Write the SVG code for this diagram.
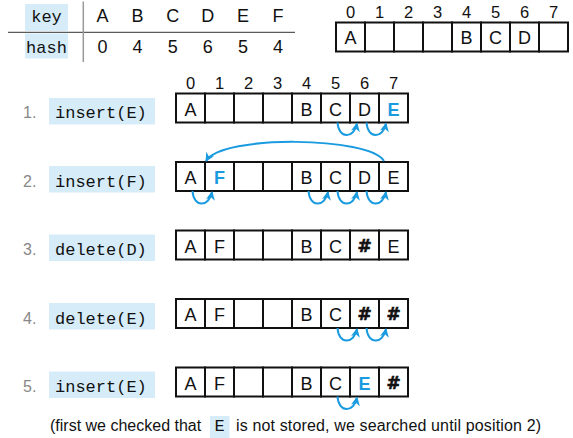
<svg xmlns="http://www.w3.org/2000/svg" width="573" height="438" viewBox="0 0 573 438">
<style>
.cell{fill:#fff;stroke:#111;stroke-width:2}
.v{font-family:"Liberation Sans",Arial,sans-serif;font-size:18px;fill:#111;text-anchor:middle}
.b{fill:#1a9be0;font-weight:bold}
.h{font-family:"DejaVu Sans",sans-serif;font-weight:bold;font-size:17px;stroke:#111;stroke-width:0.6}
.idx{font-family:"Liberation Sans",Arial,sans-serif;font-size:16.5px;fill:#111;text-anchor:middle}
.mono{font-family:"Liberation Mono","Courier New",monospace;font-size:17px;fill:#111}
.hl{fill:#d6ecf9}
.num{font-family:"Liberation Sans",Arial,sans-serif;font-size:16px;fill:#888}
.note{font-family:"Liberation Sans",Arial,sans-serif;font-size:16px;fill:#111}
.arr{fill:none;stroke:#1a9be0;stroke-width:2;marker-end:url(#ah)}
</style>
<defs>
<marker id="ah" viewBox="0 0 10 10" refX="9" refY="5" markerWidth="9" markerHeight="9" markerUnits="userSpaceOnUse" orient="auto"><path d="M0,0 L10,5 L0,10 L3,5 z" fill="#1a9be0"/></marker>
<g id="row8">
<rect class="cell" x="0" y="0" width="29" height="29"/>
<rect class="cell" x="29" y="0" width="29" height="29"/>
<rect class="cell" x="58" y="0" width="29" height="29"/>
<rect class="cell" x="87" y="0" width="29" height="29"/>
<rect class="cell" x="116" y="0" width="29" height="29"/>
<rect class="cell" x="145" y="0" width="29" height="29"/>
<rect class="cell" x="174" y="0" width="29" height="29"/>
<rect class="cell" x="203" y="0" width="29" height="29"/>
</g>
</defs>

<g id="keytable">
<rect class="hl" x="25" y="4" width="43" height="27"/>
<rect class="hl" x="25" y="33.5" width="43" height="25"/>
<text class="mono" x="46.5" y="22" text-anchor="middle">key</text>
<text class="mono" x="46.5" y="53" text-anchor="middle">hash</text>
<line x1="8" y1="32.3" x2="295" y2="32.3" stroke="#333" stroke-width="1"/>
<line x1="83.3" y1="1.5" x2="83.3" y2="62" stroke="#999" stroke-width="1.5"/>
<g class="v">
<text x="102.5" y="21.7">A</text><text x="137.6" y="21.7">B</text><text x="172.7" y="21.7">C</text><text x="207.8" y="21.7">D</text><text x="242.9" y="21.7">E</text><text x="278" y="21.7">F</text>
<text x="102.5" y="52.5">0</text><text x="137.6" y="52.5">4</text><text x="172.7" y="52.5">5</text><text x="207.8" y="52.5">6</text><text x="242.9" y="52.5">5</text><text x="278" y="52.5">4</text>
</g>
</g>

<g id="initial">
<g class="idx">
<text x="350.5" y="18">0</text><text x="379.5" y="18">1</text><text x="408.5" y="18">2</text><text x="437.5" y="18">3</text><text x="466.5" y="18">4</text><text x="495.5" y="18">5</text><text x="524.5" y="18">6</text><text x="553.5" y="18">7</text>
</g>
<use href="#row8" x="336" y="22.5"/>
<g class="v">
<text x="350.5" y="44">A</text><text x="466.5" y="44">B</text><text x="495.5" y="44">C</text><text x="524.5" y="44">D</text>
</g>
</g>

<g id="step1">
<g class="idx">
<text x="190.5" y="89">0</text><text x="219.5" y="89">1</text><text x="248.5" y="89">2</text><text x="277.5" y="89">3</text><text x="306.5" y="89">4</text><text x="335.5" y="89">5</text><text x="364.5" y="89">6</text><text x="393.5" y="89">7</text>
</g>
<text class="num" x="23" y="118.3">1.</text>
<rect class="hl" x="49" y="98" width="106" height="26.5"/>
<text class="mono" x="55" y="118.3">insert(E)</text>
<use href="#row8" x="176" y="93.5"/>
<g class="v">
<text x="190.5" y="115.5">A</text><text x="306.5" y="115.5">B</text><text x="335.5" y="115.5">C</text><text x="364.5" y="115.5">D</text><text class="b" x="393.5" y="115.5">E</text>
</g>
</g>

<g id="step2">
<text class="num" x="23" y="186.5">2.</text>
<rect class="hl" x="49" y="166" width="106" height="26.5"/>
<text class="mono" x="55" y="186.5">insert(F)</text>
<use href="#row8" x="176" y="162"/>
<g class="v">
<text x="190.5" y="184">A</text><text class="b" x="219.5" y="184">F</text><text x="306.5" y="184">B</text><text x="335.5" y="184">C</text><text x="364.5" y="184">D</text><text x="393.5" y="184">E</text>
</g>
</g>

<g id="step3">
<text class="num" x="23" y="255">3.</text>
<rect class="hl" x="49" y="234.5" width="106" height="26.5"/>
<text class="mono" x="55" y="255">delete(D)</text>
<use href="#row8" x="176" y="230.5"/>
<g class="v">
<text x="190.5" y="252.5">A</text><text x="219.5" y="252.5">F</text><text x="306.5" y="252.5">B</text><text x="335.5" y="252.5">C</text><text class="h" x="364.5" y="251.5">#</text><text x="393.5" y="252.5">E</text>
</g>
</g>

<g id="step4">
<text class="num" x="23" y="323.5">4.</text>
<rect class="hl" x="49" y="303" width="106" height="26.5"/>
<text class="mono" x="55" y="323.5">delete(E)</text>
<use href="#row8" x="176" y="299"/>
<g class="v">
<text x="190.5" y="321">A</text><text x="219.5" y="321">F</text><text x="306.5" y="321">B</text><text x="335.5" y="321">C</text><text class="h" x="364.5" y="320">#</text><text class="h" x="393.5" y="320">#</text>
</g>
</g>

<g id="step5">
<text class="num" x="23" y="392">5.</text>
<rect class="hl" x="49" y="371.5" width="106" height="26.5"/>
<text class="mono" x="55" y="392">insert(E)</text>
<use href="#row8" x="176" y="367.5"/>
<g class="v">
<text x="190.5" y="389.5">A</text><text x="219.5" y="389.5">F</text><text x="306.5" y="389.5">B</text><text x="335.5" y="389.5">C</text><text class="b" x="364.5" y="389.5">E</text><text class="h" x="393.5" y="388.5">#</text>
</g>
</g>

<g id="note">
<rect class="hl" x="210" y="416" width="19.5" height="22"/>
<text class="note" x="50" y="431">(first we checked that</text>
<text class="mono" x="219.7" y="431" text-anchor="middle">E</text>
<text class="note" x="236" y="431" textLength="305" lengthAdjust="spacing">is not stored, we searched until position 2)</text>
</g>

<g id="connectors">
<path class="arr" d="M337.5 122.5 C338.5 139, 354 139, 357 123.5"/>
<path class="arr" d="M366.5 122.5 C367.5 139, 383 139, 386 123.5"/>
<path class="arr" d="M384 161 C370 137, 222 134, 206 161"/>
<path class="arr" d="M192.5 191 C193.5 207.5, 209 207.5, 212 192"/>
<path class="arr" d="M308.5 191 C309.5 207.5, 325 207.5, 328 192"/>
<path class="arr" d="M337.5 191 C338.5 207.5, 354 207.5, 357 192"/>
<path class="arr" d="M366.5 191 C367.5 207.5, 383 207.5, 386 192"/>
<path class="arr" d="M337.5 328 C338.5 344.5, 354 344.5, 357 329"/>
<path class="arr" d="M366.5 328 C367.5 344.5, 383 344.5, 386 329"/>
<path class="arr" d="M337.5 396.5 C338.5 413, 354 413, 357 397.5"/>
</g>
</svg>
